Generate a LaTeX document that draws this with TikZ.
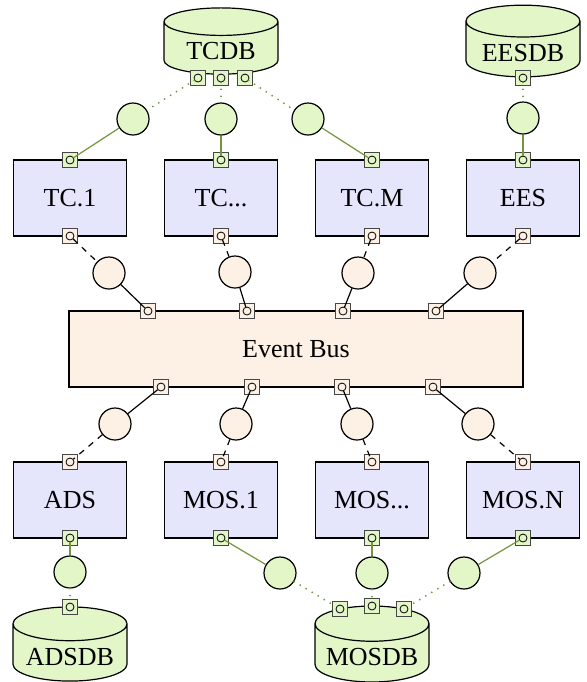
\documentclass[tikz,border=0pt]{standalone}
\usepackage{fontspec}
\setmainfont{Liberation Serif}
\usetikzlibrary{shapes.geometric}
\definecolor{compblue}{RGB}{229,229,252}
\definecolor{busorange}{RGB}{253,240,228}
\definecolor{dbgreen}{RGB}{226,246,200}
\definecolor{linkgreen}{RGB}{116,148,62}
\definecolor{portedge}{RGB}{70,70,70}

\begin{document}
\begin{tikzpicture}[
  x=0.5pt, y=-0.5pt,
  font=\fontsize{13}{15}\selectfont,
  comp/.style={rectangle, draw, fill=compblue, line width=0.6pt, minimum width=56.5pt, minimum height=38pt},
  bus/.style={rectangle, draw, fill=busorange, line width=0.6pt, minimum width=227pt, minimum height=38pt},
  db/.style={cylinder, shape border rotate=90, aspect=0.333, anchor=shape center, draw, fill=dbgreen, line width=0.6pt, minimum width=57pt, minimum height=27.5pt},
  iface/.style={circle, draw, line width=0.6pt, minimum size=16pt, inner sep=0pt},
  portbox/.style={rectangle, draw=portedge, line width=0.4pt, minimum size=7.5pt, inner sep=0pt},
  pin/.style={circle, draw, line width=0.4pt, minimum size=4pt, inner sep=0pt},
  uses/.style={line width=0.6pt, dashed},
  offers/.style={line width=0.6pt},
  dblink/.style={draw=linkgreen, line width=0.6pt},
  dbuse/.style={draw=linkgreen, line width=1pt, line cap=round, dash pattern=on 0pt off 3.5pt}
]
\useasboundingbox (0,0) rectangle (586,682);

% databases
\node[db] (tcdb) at (221,41) {TCDB};
\node[db] (eesdb) at (523,41) {EESDB};
\node[db] (adsdb) at (70,644) {ADSDB};
\node[db] (mosdb) at (372,644) {MOSDB};

% components
\node[comp] (tc1) at (70,198) {TC.1};
\node[comp] (tcx) at (221,198) {TC...};
\node[comp] (tcm) at (372,198) {TC.M};
\node[comp] (ees) at (523,198) {EES};
\node[bus] (evbus) at (296,349) {Event Bus};
\node[comp] (ads) at (70,500) {ADS};
\node[comp] (mos1) at (221,500) {MOS.1};
\node[comp] (mosx) at (372,500) {MOS...};
\node[comp] (mosn) at (523,500) {MOS.N};

% ports
\foreach \n/\x/\y/\c in {
  tcdbA/198/78/dbgreen, tcdbB/221/78/dbgreen, tcdbC/245/78/dbgreen, eesdbA/523/78/dbgreen,
  tc1t/70/160/dbgreen, tcxt/221/160/dbgreen, tcmt/372/160/dbgreen, eest/523/160/dbgreen,
  adsb/70/538/dbgreen, mos1b/221/538/dbgreen, mosxb/372/538/dbgreen, mosnb/523/538/dbgreen,
  adsdbA/70/607/dbgreen, mosdbA/340/609/dbgreen, mosdbB/372/606/dbgreen, mosdbC/404/609/dbgreen,
  tc1b/70/236/busorange, tcxb/221/236/busorange, tcmb/372/236/busorange, eesb/523/236/busorange,
  busA/148/311/busorange, busB/247/311/busorange, busC/343/311/busorange, busD/436/311/busorange,
  busE/161/387/busorange, busF/252/387/busorange, busG/342/387/busorange, busH/433/387/busorange,
  adst/70/462/busorange, mos1t/221/462/busorange, mosxt/372/462/busorange, mosnt/523/462/busorange}
{
  \node[portbox, fill=\c] (\n-box) at (\x,\y) {};
  \node[pin] (\n) at (\n-box) {};
}

% interfaces
\node[iface, fill=dbgreen] (g1) at (133,119) {};
\node[iface, fill=dbgreen] (g2) at (221,119) {};
\node[iface, fill=dbgreen] (g3) at (308,119) {};
\node[iface, fill=dbgreen] (g4) at (523,118) {};
\node[iface, fill=busorange] (o1) at (109,273) {};
\node[iface, fill=busorange] (o2) at (235,272) {};
\node[iface, fill=busorange] (o3) at (358,273) {};
\node[iface, fill=busorange] (o4) at (480,273) {};
\node[iface, fill=busorange] (o5) at (115,424) {};
\node[iface, fill=busorange] (o6) at (236,424) {};
\node[iface, fill=busorange] (o7) at (357,424) {};
\node[iface, fill=busorange] (o8) at (478,424) {};
\node[iface, fill=dbgreen] (g5) at (70,572) {};
\node[iface, fill=dbgreen] (g6) at (280,573) {};
\node[iface, fill=dbgreen] (g7) at (372,573) {};
\node[iface, fill=dbgreen] (g8) at (464,573) {};

% database access
\draw[dbuse] (tcdbA) -- (g1);
\draw[dbuse] (tcdbB) -- (g2);
\draw[dbuse] (tcdbC) -- (g3);
\draw[dbuse] (eesdbA) -- (g4);
\draw[dbuse] (g5) -- (adsdbA);
\draw[dbuse] (g6) -- (mosdbA);
\draw[dbuse] (g7) -- (mosdbB);
\draw[dbuse] (g8) -- (mosdbC);
\draw[dblink] (g1) -- (tc1t);
\draw[dblink] (g2) -- (tcxt);
\draw[dblink] (g3) -- (tcmt);
\draw[dblink] (g4) -- (eest);
\draw[dblink] (adsb) -- (g5);
\draw[dblink] (mos1b) -- (g6);
\draw[dblink] (mosxb) -- (g7);
\draw[dblink] (mosnb) -- (g8);

% bus connections
\draw[uses] (tc1b) -- (o1);
\draw[uses] (tcxb) -- (o2);
\draw[uses] (tcmb) -- (o3);
\draw[uses] (eesb) -- (o4);
\draw[offers] (o1) -- (busA);
\draw[offers] (o2) -- (busB);
\draw[offers] (o3) -- (busC);
\draw[offers] (o4) -- (busD);
\draw[offers] (busE) -- (o5);
\draw[offers] (busF) -- (o6);
\draw[offers] (busG) -- (o7);
\draw[offers] (busH) -- (o8);
\draw[uses] (o5) -- (adst);
\draw[uses] (o6) -- (mos1t);
\draw[uses] (o7) -- (mosxt);
\draw[uses] (o8) -- (mosnt);
\end{tikzpicture}
\end{document}
